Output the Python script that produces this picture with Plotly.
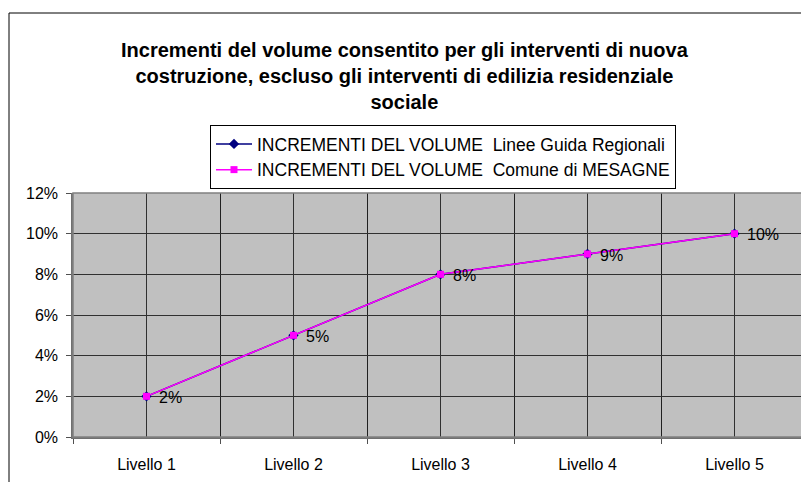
import plotly.graph_objects as go

categories = ["Livello 1", "Livello 2", "Livello 3", "Livello 4", "Livello 5"]
regionali = [0.02, 0.05, 0.08, 0.09, 0.10]
mesagne = [0.02, 0.05, 0.08, 0.09, 0.10]
series_names = ["INCREMENTI DEL VOLUME\u00a0 Linee Guida Regionali",
                "INCREMENTI DEL VOLUME\u00a0 Comune di MESAGNE"]
y_ticks = [0, 0.02, 0.04, 0.06, 0.08, 0.10, 0.12]
title_text = ("Incrementi del volume consentito per gli interventi di nuova<br>"
              "costruzione, escluso gli interventi di edilizia residenziale<br>sociale")

FONT = "Liberation Sans, Arial, sans-serif"
OFF = 8  # page body margin
W, H = 809 - OFF, 482 - OFF
L, T = 73 - OFF, 193 - OFF
R, B = 1, 45
pw, ph = W - L - R, H - T - B


def px(xs):
    return (xs - OFF - L) / pw


def py(ys):
    return (H - B - (ys - OFF)) / ph


xs = list(range(len(categories)))

fig = go.Figure()
fig.add_trace(go.Scatter(
    x=xs, y=regionali, name=series_names[0], mode="lines+markers",
    line=dict(color="#000080", width=1.5),
    marker=dict(symbol="diamond", size=8, color="#000080"),
))
fig.add_trace(go.Scatter(
    x=xs, y=mesagne, name=series_names[1], mode="lines+markers",
    line=dict(color="#FF00FF", width=1.5),
    marker=dict(symbol="square", size=7, color="#FF00FF"),
))
for xv, yv in zip(xs, mesagne):
    fig.add_annotation(x=xv, y=yv, xref="x", yref="y", text=f"{yv:.0%}",
                       showarrow=False, xanchor="left", yanchor="middle",
                       xshift=10, yshift=-1,
                       font=dict(family=FONT, size=16, color="black"))

fig.add_annotation(text=title_text, xref="paper", yref="paper",
                   x=px(405), y=py(76), xanchor="center", yanchor="middle",
                   showarrow=False, align="center",
                   font=dict(family=FONT, size=20, color="black", weight="bold"))

fig.update_layout(
    width=W, height=H,
    margin=dict(l=L, r=R, t=T, b=B, pad=0),
    paper_bgcolor="white", plot_bgcolor="#C0C0C0",
    font=dict(family=FONT, size=16, color="black"),
    showlegend=True,
    legend=dict(x=px(210), xanchor="left", y=py(189), yanchor="bottom",
                bgcolor="white", bordercolor="black", borderwidth=1,
                font=dict(family=FONT, size=17.5, color="black"),
                itemwidth=36, tracegroupgap=0),
)
fig.update_xaxes(
    range=[-0.5, 4.5], tickmode="array", tickvals=xs, ticktext=categories,
    ticks="", showgrid=True, gridcolor="#303030", gridwidth=1,
    zeroline=False, showline=True, linecolor="#707070", linewidth=1.5, mirror=False,
    tickfont=dict(size=16), ticklabelstandoff=12,
    minor=dict(tickmode="linear", tick0=-0.5, dtick=1, ticks="outside", ticklen=5,
               tickcolor="#505050", showgrid=True, gridcolor="#202020", gridwidth=1),
    fixedrange=True,
)
fig.update_yaxes(
    range=[0, 0.12], tickmode="array", tickvals=y_ticks, tickformat=".0%",
    ticks="outside", ticklen=5, tickcolor="#505050",
    showgrid=True, gridcolor="#303030", gridwidth=1, zeroline=False,
    showline=True, linecolor="#707070", linewidth=1.5,
    tickfont=dict(size=16), ticklabelstandoff=5,
)
# plot area frame
fig.add_shape(type="rect", xref="paper", yref="paper", x0=0, x1=1, y0=0, y1=1,
              line=dict(color="#808080", width=1.5), fillcolor="rgba(0,0,0,0)", layer="above")
# outer chart border (continues past the window on right and bottom)
fig.add_shape(type="rect", xref="paper", yref="paper",
              x0=px(9), x1=1.2, y0=-0.5, y1=py(13),
              line=dict(color="black", width=1), fillcolor="rgba(0,0,0,0)")

fig.write_html("out.html")
